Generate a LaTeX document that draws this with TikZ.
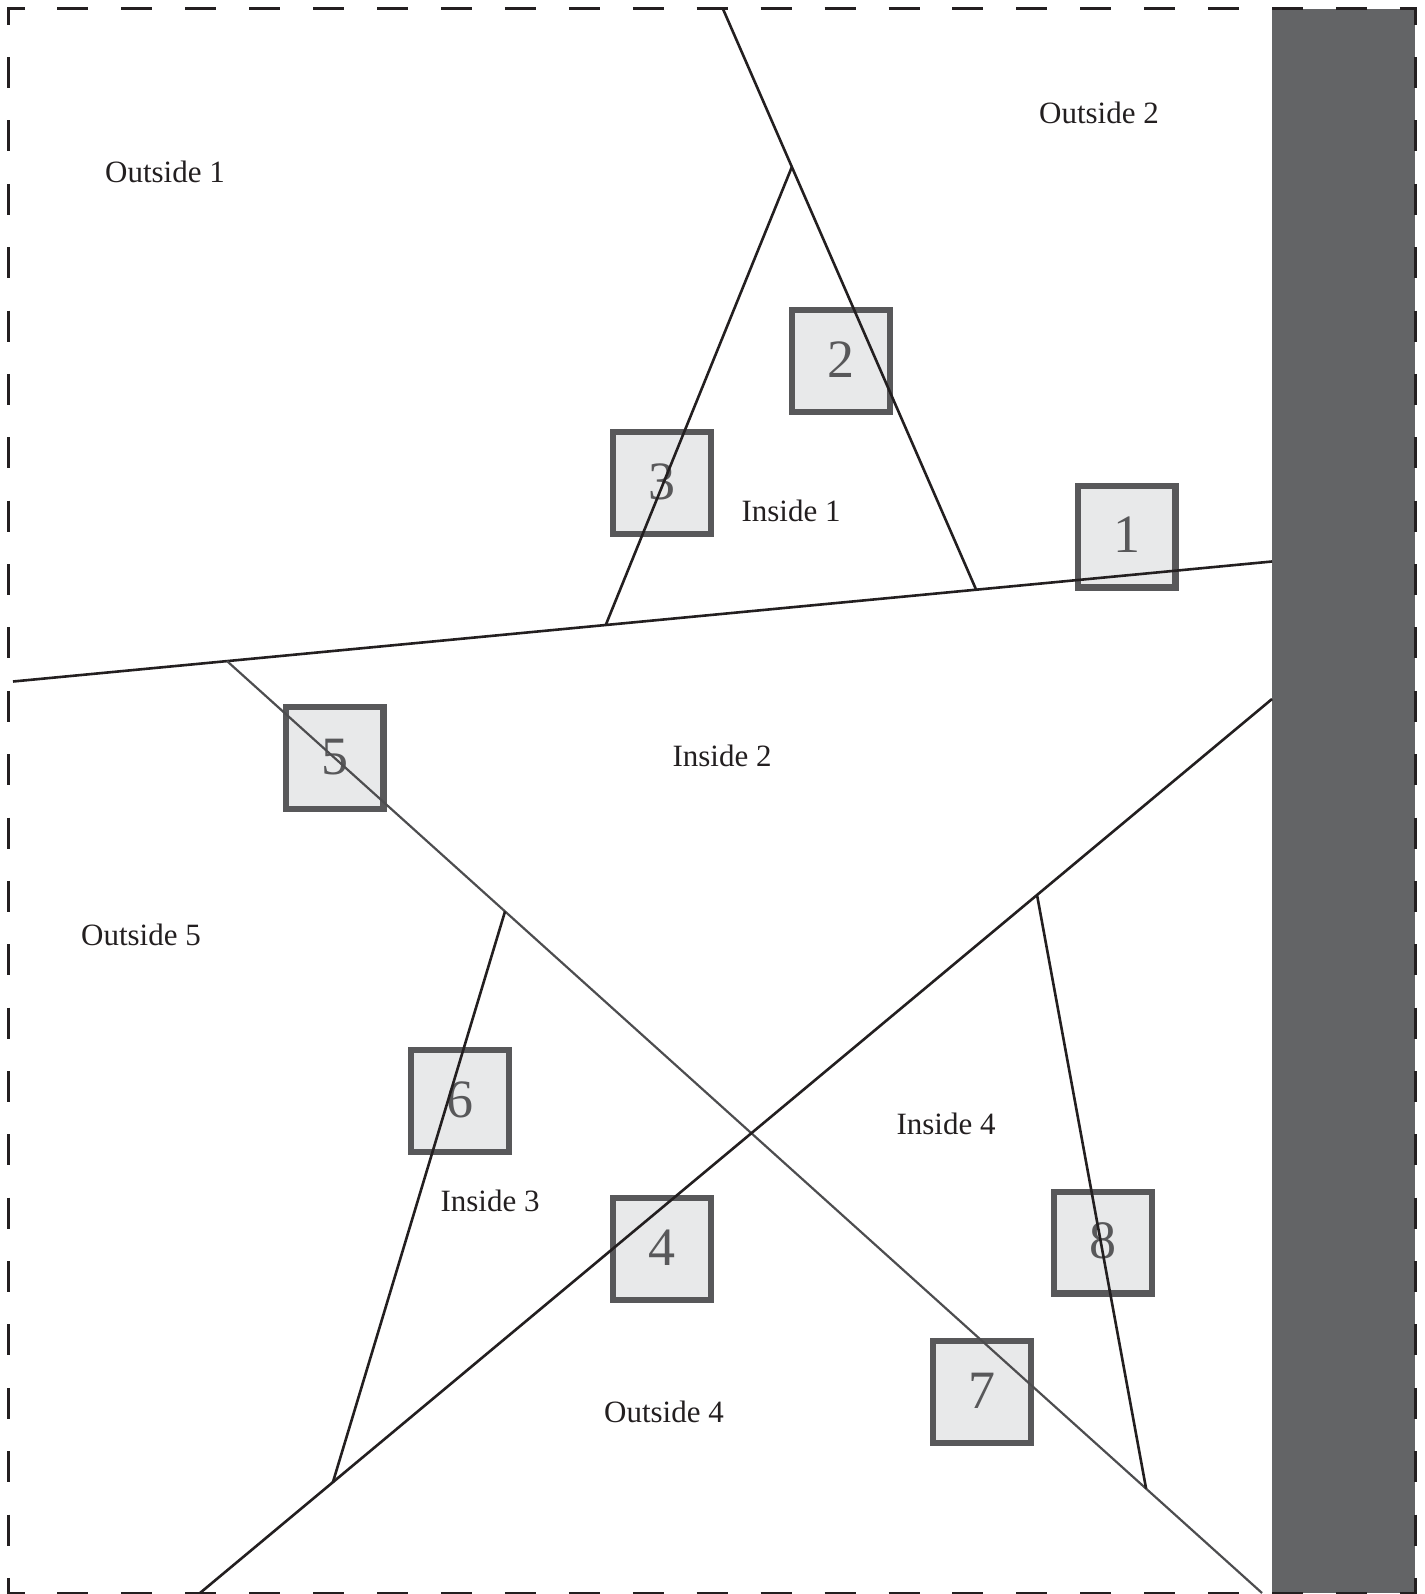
\documentclass[tikz,border=0pt]{standalone}
\usepackage{fontspec}
\setmainfont{Liberation Serif}
\usetikzlibrary{calc}
\definecolor{barcol}{HTML}{636466}
\definecolor{boxline}{HTML}{58585A}
\definecolor{boxfill}{HTML}{E8E9EA}
\definecolor{ink}{HTML}{231F20}
\definecolor{greyline}{HTML}{4D4D4F}
\tikzset{
  numbox/.style={draw=boxline, fill=boxfill, line width=6.3pt, minimum width=97.7pt, minimum height=101.7pt, inner sep=0pt, outer sep=0pt},
  digit/.style={text=boxline, font=\fontsize{54}{60}\selectfont, inner sep=0pt, anchor=base},
  region/.style={text=ink, font=\fontsize{31}{37}\selectfont, inner sep=0pt, anchor=base},
  wall/.style={draw=ink, line width=2.6pt},
  softwall/.style={draw=greyline, line width=2.2pt},
  borderh/.style={draw=ink, line width=3pt, dash pattern=on 31pt off 32.93pt, dash phase=13.5pt},
  borderv/.style={draw=ink, line width=3pt, dash pattern=on 31pt off 32.37pt, dash phase=13.5pt}
}
\begin{document}
\begin{tikzpicture}[x=1pt,y=-1pt]
\useasboundingbox (0,0) rectangle (1424,1594);
% grey bar
\fill[barcol] (1272,9) rectangle (1415,1593);
% boxes
\node[numbox] (b1) at (1126.5,536.5) {};
\node[numbox] (b2) at (841,361) {};
\node[numbox] (b3) at (662,483) {};
\node[numbox] (b4) at (662,1249) {};
\node[numbox] (b5) at (334.5,758) {};
\node[numbox] (b6) at (460,1101) {};
\node[numbox] (b7) at (982,1392) {};
\node[numbox] (b8) at (1103,1242.5) {};
\node[digit] (d1) at ([yshift=-16pt]b1.center) {1};
\node[digit] (d2) at ([yshift=-16pt]b2.center) {2};
\node[digit] (d3) at ([yshift=-16pt]b3.center) {3};
\node[digit] (d4) at ([yshift=-16pt]b4.center) {4};
\node[digit] (d5) at ([yshift=-16pt]b5.center) {5};
\node[digit] (d6) at ([yshift=-16pt]b6.center) {6};
\node[digit] (d7) at ([yshift=-16pt]b7.center) {7};
\node[digit] (d8) at ([yshift=-16pt]b8.center) {8};
% line endpoints
\coordinate (A1) at (13,681.5);
\coordinate (A2) at (1272,561.5);
\coordinate (T1) at (723,9);
\coordinate (T2) at ($(A1)!0.765!(A2)$);
\coordinate (apex) at ($(T1)!0.272!(T2)$);
\coordinate (L1) at ($(A1)!0.4708!(A2)$);
\coordinate (F1) at ($(A1)!0.17!(A2)$);
\coordinate (F2) at (1262,1593);
\coordinate (X1) at (200,1593);
\coordinate (X2) at (1272,699);
\coordinate (S1) at ($(F1)!0.2686!(F2)$);
\coordinate (S2) at ($(X1)!0.124!(X2)$);
\coordinate (E1) at ($(X1)!0.7808!(X2)$);
\coordinate (E2) at ($(F1)!0.888!(F2)$);
% walls
\draw[wall] (A1) -- (A2);
\draw[wall] (T1) -- (T2);
\draw[wall] (apex) -- (L1);
\draw[softwall] (F1) -- (F2);
\draw[wall] (X1) -- (X2);
\draw[wall] (S1) -- (S2);
\draw[wall] (E1) -- (E2);
% region labels
\node[region] (o1) at (165,183) {Outside 1};
\node[region] (o2) at (1099,124) {Outside 2};
\node[region] (i1) at (791,521) {Inside 1};
\node[region] (i2) at (722,766) {Inside 2};
\node[region] (o5) at (141,945) {Outside 5};
\node[region] (i4) at (946,1134) {Inside 4};
\node[region] (i3) at (490,1211) {Inside 3};
\node[region] (o4) at (664,1422) {Outside 4};
% dashed border
\draw[borderh] (7,8.7) -- (1416.5,8.7);
\draw[borderh] (7,1593) -- (1416.5,1593);
\draw[borderv] (8.5,7.2) -- (8.5,1594.5);
\draw[borderv] (1415,7.2) -- (1415,1594.5);
\end{tikzpicture}
\end{document}
